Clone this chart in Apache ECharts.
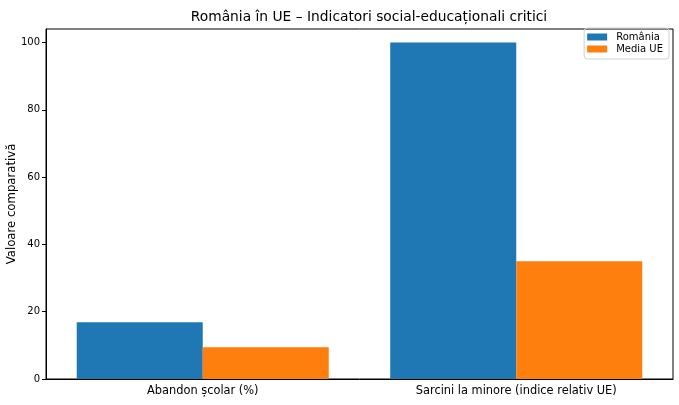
<!DOCTYPE html>
<html><head><meta charset="utf-8">
<script src="https://cdn.jsdelivr.net/npm/echarts@6/dist/echarts.min.js"></script>
<style>html,body{margin:0;padding:0;background:#fff}#c{width:679px;height:405px}</style>
</head><body><div id="c"></div>
<script>
const categories = ['Abandon școlar (%)', 'Sarcini la minore (indice relativ UE)'];
const romania = [16.9, 100];
const mediaUE = [9.4, 35];
const yTicks = [0, 20, 40, 60, 80, 100];

const chart = echarts.init(document.getElementById('c'));
const font = 'DejaVu Sans';
chart.setOption({
  animation: false,
  textStyle: {fontFamily: font},
  title: {
    text: 'România în UE – Indicatori social-educaționali critici',
    left: 364, top: 5, textAlign: 'center',
    textStyle: {fontFamily: font, fontSize: 13.8, fontWeight: 'normal', color: '#000'}
  },
  legend: {
    orient: 'vertical', right: 10, top: 28,
    itemWidth: 20, itemHeight: 7, itemGap: 0,
    borderColor: '#d0d0d0', borderWidth: 1, borderRadius: 3,
    padding: [3, 6, 4, 3],
    textStyle: {fontFamily: font, fontSize: 10, color: '#000', lineHeight: 12, padding: [0, 0, 0, 4]},
    icon: 'rect'
  },
  grid: {left: 46, right: 6, top: 29, bottom: 26, show: true, borderColor: '#000', borderWidth: 1,
         containLabel: false, outerBoundsMode: 'none'},
  xAxis: {
    type: 'category', data: categories,
    axisLine: {lineStyle: {color: '#000'}},
    axisTick: {alignWithLabel: true, length: 4, lineStyle: {color: '#000'}},
    axisLabel: {fontFamily: font, fontSize: 11.4, color: '#000', margin: 7}
  },
  yAxis: {
    type: 'value', min: 0, max: 104, interval: 20,
    name: 'Valoare comparativă', nameLocation: 'middle', nameGap: 28, nameMoveOverlap: false,
    nameTextStyle: {fontFamily: font, fontSize: 11.7, color: '#000'},
    axisLine: {show: true, lineStyle: {color: '#000'}},
    axisTick: {show: true, length: 4, lineStyle: {color: '#000'}, customValues: yTicks},
    axisLabel: {fontFamily: font, fontSize: 10, color: '#000', margin: 6, customValues: yTicks},
    splitLine: {show: false}
  },
  series: [
    {name: 'România', type: 'bar', data: romania, barWidth: '40.2%', barGap: '0%', itemStyle: {color: '#1f77b4'}},
    {name: 'Media UE', type: 'bar', data: mediaUE, barWidth: '40.2%', barGap: '0%', itemStyle: {color: '#ff7f0e'}}
  ]
});
</script></body></html>
